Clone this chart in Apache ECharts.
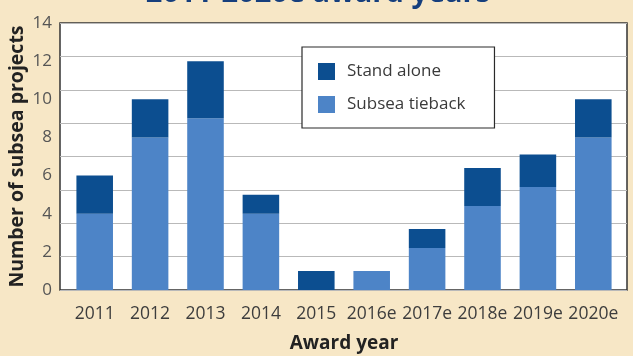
<!DOCTYPE html>
<html>
<head>
<meta charset="utf-8">
<script src="https://cdn.jsdelivr.net/npm/echarts@6/dist/echarts.min.js"></script>
<style>
  html, body { margin: 0; padding: 0; background: #f7e7c6; }
  #chart { width: 633px; height: 356px; }
</style>
</head>
<body>
<div id="chart"></div>
<script>
// Award years on the category axis
const years = ['2011', '2012', '2013', '2014', '2015', '2016e', '2017e', '2018e', '2019e', '2020e'];
// Subsea tieback projects per award year (bottom of stack)
const subseaTieback = [4, 8, 9, 4, 0, 1, 2.2, 4.4, 5.4, 8];
// Stand alone projects per award year (top of stack)
const standAlone = [2, 2, 3, 1, 1, 0, 1, 2, 1.7, 2];
// Y tick labels
const yTicks = [0, 2, 4, 6, 8, 10, 12, 14];

const chart = echarts.init(document.getElementById('chart'));
const fontSans = '"Open Sans", "Liberation Sans", sans-serif';

chart.setOption({
  backgroundColor: '#f7e7c6',
  animation: false,
  graphic: [
    {
      type: 'text',
      x: 318, y: -6,
      style: {
        text: '2011-2020e award years',
        x: 0, y: 0,
        font: 'bold 29px "Open Sans", "Liberation Sans", sans-serif',
        fill: '#163f7d',
        textAlign: 'center',
        textVerticalAlign: 'middle'
      }
    }
  ],
  legend: {
    data: ['Stand alone', 'Subsea tieback'],
    orient: 'vertical',
    left: 302,
    top: 47,
    padding: [16, 29, 15, 16],
    itemGap: 16,
    itemWidth: 17,
    itemHeight: 17,
    backgroundColor: '#ffffff',
    borderColor: '#2a2a2a',
    borderWidth: 1.2,
    textStyle: { fontFamily: fontSans, fontSize: 17, color: '#3a3a3a', padding: [0, 0, 0, 7] },
    icon: 'rect'
  },
  grid: [
    { left: 60, right: 6, top: 23, bottom: 66, show: true, backgroundColor: '#ffffff', borderColor: '#333333', borderWidth: 1.5, containLabel: false, outerBoundsMode: 'none' },
    { left: 67, width: 554, top: 23, bottom: 66, containLabel: false, outerBoundsMode: 'none' }
  ],
  xAxis: [
    {
      gridIndex: 0, type: 'value', min: 0, max: 1, show: false
    },
    {
      gridIndex: 1,
      type: 'category',
      data: years,
      axisLine: { show: false },
      axisTick: { show: false },
      axisLabel: { fontFamily: fontSans, fontSize: 17.5, color: '#3d3d3d', margin: 15, interval: 0 },
      name: 'Award year',
      nameLocation: 'middle',
      nameGap: 44,
      nameMoveOverlap: false,
      nameTextStyle: { fontFamily: fontSans, fontSize: 19, fontWeight: 'bold', color: '#222222' }
    }
  ],
  yAxis: [
    {
      gridIndex: 0,
      type: 'value',
      min: 0, max: 14, interval: 2,
      axisLine: { show: false },
      axisTick: { show: false },
      splitLine: { show: false },
      axisLabel: {
        fontFamily: fontSans, fontSize: 17, color: '#555555', margin: 8,
        formatter: v => (yTicks.indexOf(v) >= 0 ? String(v) : '')
      },
      name: 'Number of subsea projects',
      nameLocation: 'middle',
      nameGap: 33,
      nameMoveOverlap: false,
      nameTextStyle: { fontFamily: fontSans, fontSize: 19.5, fontWeight: 'bold', color: '#222222' }
    },
    {
      // light rules across the plot, on their own spacing
      gridIndex: 0,
      type: 'value',
      position: 'right',
      min: 0, max: 14, interval: 1.75,
      axisLine: { show: false },
      axisTick: { show: false },
      axisLabel: { show: false },
      splitLine: { show: true, lineStyle: { color: '#b9b9b9', width: 1.2 } }
    },
    {
      gridIndex: 1,
      type: 'value',
      min: 0, max: 14,
      show: false,
      splitLine: { show: false }
    }
  ],
  series: [
    {
      name: 'Subsea tieback',
      type: 'bar',
      stack: 'total',
      xAxisIndex: 1,
      yAxisIndex: 2,
      barWidth: '66%',
      itemStyle: { color: '#4d84c7' },
      data: subseaTieback
    },
    {
      name: 'Stand alone',
      type: 'bar',
      stack: 'total',
      xAxisIndex: 1,
      yAxisIndex: 2,
      barWidth: '66%',
      itemStyle: { color: '#0c4e90' },
      data: standAlone
    }
  ]
});
</script>
</body>
</html>
